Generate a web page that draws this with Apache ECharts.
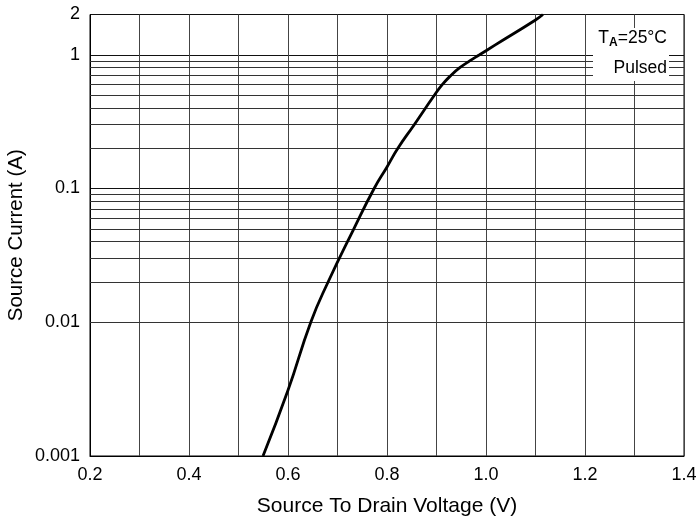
<!DOCTYPE html>
<html>
<head>
<meta charset="utf-8">
<script src="https://cdn.jsdelivr.net/npm/echarts@6/dist/echarts.min.js"></script>
<style>html,body{margin:0;padding:0;background:#fff;}#c{width:697px;height:518px;}</style>
</head>
<body>
<div id="c"></div>
<script>
// Source-to-drain voltage (V) and source current (A)
const voltage = [0.5495, 0.600, 0.646, 0.681, 0.733, 0.774, 0.800, 0.822, 0.855, 0.896, 0.912, 0.929, 0.947, 0.967, 0.987, 1.018, 1.100, 1.115];
const current = [0.001, 0.0031, 0.01, 0.02, 0.05, 0.1, 0.145, 0.2, 0.3, 0.5, 0.6, 0.7, 0.8, 0.9, 1.0, 1.18, 1.82, 2.0];
// Minor (2..9 per decade) horizontal grid values
const yMinorTicks = [0.002,0.003,0.004,0.005,0.006,0.007,0.008,0.009,
                     0.02,0.03,0.04,0.05,0.06,0.07,0.08,0.09,
                     0.2,0.3,0.4,0.5,0.6,0.7,0.8,0.9];
const xMin = 0.2, xMax = 1.4, xStep = 0.1;
const yMin = 0.001, yMax = 2;
const xTitle = 'Source To Drain Voltage (V)';
const yTitle = 'Source Current (A)';

const FONT = '"Liberation Sans", Arial, sans-serif';
const chart = echarts.init(document.getElementById('c'), null, {renderer: 'canvas'});
const pts = voltage.map((v, i) => [v, current[i]]);

chart.setOption({
  animation: false,
  backgroundColor: '#fff',
  grid: {left: 90, right: 13, top: 14.5, bottom: 62, containLabel: false, outerBoundsMode: 'none',
         show: true, borderColor: '#000', borderWidth: 1, backgroundColor: 'transparent'},
  xAxis: {
    type: 'value', min: xMin, max: xMax, interval: xStep,
    name: xTitle, nameLocation: 'middle', nameGap: 40, nameMoveOverlap: false,
    nameTextStyle: {fontFamily: FONT, fontSize: 21, color: '#000'},
    axisLine: {show: true, lineStyle: {color: '#000', width: 1}},
    axisTick: {show: false},
    axisLabel: {margin: 10, fontFamily: FONT, fontSize: 18, color: '#000',
      formatter: v => (Math.round(v * 10) % 2 === 0 ? v.toFixed(1) : '')},
    splitLine: {show: true, lineStyle: {color: '#444', width: 1}}
  },
  yAxis: {
    type: 'log', logBase: 10, min: yMin, max: yMax,
    name: yTitle, nameLocation: 'middle', nameGap: 63, nameRotate: 90, nameMoveOverlap: false,
    nameTextStyle: {fontFamily: FONT, fontSize: 20.5, color: '#000'},
    axisLine: {show: true, lineStyle: {color: '#000', width: 1}},
    axisTick: {show: false},
    axisLabel: {margin: 10, fontFamily: FONT, fontSize: 18, color: '#000',
      formatter: v => String(parseFloat(Number(v).toPrecision(3)))},
    splitLine: {show: true, lineStyle: {color: '#111', width: 1}},
    minorTick: {show: false}, minorSplitLine: {show: false}
  },
  series: [{
    type: 'line', data: pts, smooth: 0.5,
    showSymbol: false, symbol: 'none', z: 5,
    lineStyle: {color: '#000', width: 2.8},
    markLine: {
      silent: true, symbol: ['none', 'none'], label: {show: false}, animation: false,
      lineStyle: {type: 'solid', color: '#333', width: 1},
      emphasis: {disabled: true},
      data: yMinorTicks.map(t => ({yAxis: t}))
    }
  }],
  graphic: [
    {type: 'rect', z: 50, shape: {x: 593, y: 28, width: 76, height: 53}, style: {fill: '#fff'}},
    {type: 'text', z: 51, x: 667, y: 49, style: {
      text: 'T{s|A}=25°C', align: 'right', verticalAlign: 'bottom',
      font: '17.5px ' + FONT, fill: '#000',
      rich: {s: {fontSize: 12, fontWeight: 'bold', fontFamily: FONT, padding: [10, 0, 0, 0], fill: '#000'}}
    }},
    {type: 'text', z: 51, x: 667, y: 68, style: {
      text: 'Pulsed', align: 'right', verticalAlign: 'middle',
      font: '17.5px ' + FONT, fill: '#000'
    }}
  ]
});
</script>
</body>
</html>
